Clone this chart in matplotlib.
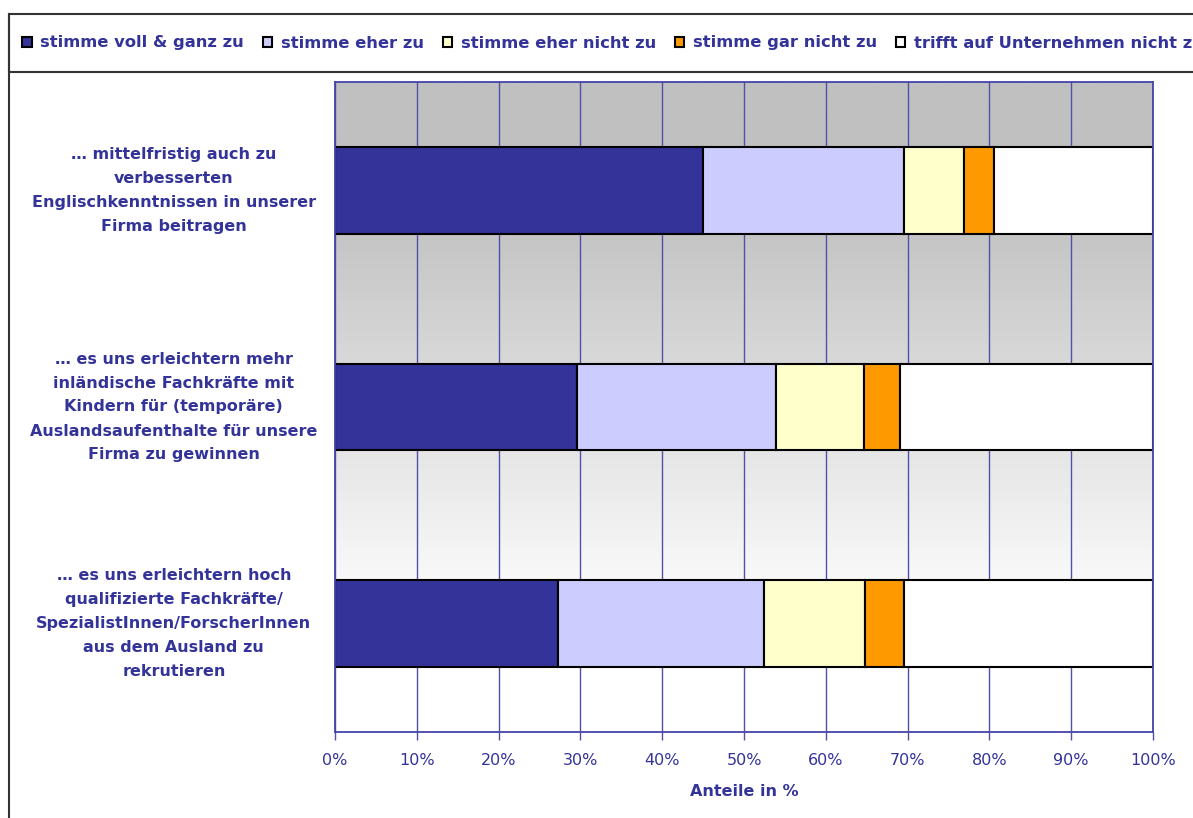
import numpy as np
import matplotlib
matplotlib.use('Agg')
import matplotlib.pyplot as plt
from matplotlib.patches import Rectangle
from matplotlib.lines import Line2D
import matplotlib.transforms as mtransforms

# Daten (Anteile in %)
kategorien = [
    '… mittelfristig auch zu\nverbesserten\nEnglischkenntnissen in unserer\nFirma beitragen',
    '… es uns erleichtern mehr\ninländische Fachkräfte mit\nKindern für (temporäre)\nAuslandsaufenthalte für unsere\nFirma zu gewinnen',
    '… es uns erleichtern hoch\nqualifizierte Fachkräfte/\nSpezialistInnen/ForscherInnen\naus dem Ausland zu\nrekrutieren',
]
serien = ['stimme voll & ganz zu', 'stimme eher zu', 'stimme eher nicht zu',
          'stimme gar nicht zu', 'trifft auf Unternehmen nicht zu']
voll_ganz = [45.0, 29.6, 27.3]
eher_zu = [24.6, 24.3, 25.1]
eher_nicht = [7.3, 10.8, 12.4]
gar_nicht = [3.7, 4.4, 4.8]
trifft_nicht = [19.4, 30.9, 30.4]
xticks = [0, 10, 20, 30, 40, 50, 60, 70, 80, 90, 100]
xticklabels = [f'{t}%' for t in xticks]

farben = ['#333399', '#ccccff', '#ffffcc', '#ff9900', '#ffffff']
textfarbe = '#333399'
gitterfarbe = '#5050a8'

plt.rcParams['font.family'] = ['DejaVu Sans']

fig = plt.figure(figsize=(11.93, 8.18), dpi=100)
ax = fig.add_axes([335/1193, 1 - 732/818, 818/1193, 650/818])

# Hintergrundverlauf grau -> weiss
cmap = matplotlib.colors.LinearSegmentedColormap.from_list(
    'g', [(0, '#c0c0c0'), (0.18, '#c0c0c0'), (0.83, '#ffffff'), (1, '#ffffff')])
verlauf = np.linspace(0, 1, 512).reshape(-1, 1)
ax.imshow(verlauf, extent=[0, 100, -0.5, 2.5], aspect='auto', origin='upper',
          cmap=cmap, zorder=0)

ypos = np.array([2, 1, 0])
werte = [voll_ganz, eher_zu, eher_nicht, gar_nicht, trifft_nicht]
links = np.zeros(3)
for name, w, f in zip(serien, werte, farben):
    ax.barh(ypos, w, left=links, height=0.4, color=f, edgecolor='black',
            linewidth=1.5, label=name, zorder=3)
    links += np.array(w)

ax.set_xlim(0, 100)
ax.set_ylim(-0.5, 2.5)
ax.set_xticks(xticks)
ax.set_xticklabels(xticklabels, fontsize=11.5, color=textfarbe)
ax.tick_params(axis='x', colors=gitterfarbe, labelcolor=textfarbe, length=6,
               width=1, pad=9, direction='out')
ax.set_yticks([])
ax.xaxis.grid(True, color=gitterfarbe, linewidth=1)
ax.set_axisbelow(False)
for l in ax.get_xgridlines():
    l.set_zorder(1)
for s in ax.spines.values():
    s.set_color('#4444aa')
    s.set_linewidth(1.3)
    s.set_zorder(4)

ax.set_xlabel('Anteile in %', fontsize=11.5, fontweight='bold', color=textfarbe, labelpad=12)

trans = mtransforms.blended_transform_factory(ax.transAxes, ax.transData)
for y, k in zip(ypos, kategorien):
    ax.text(-0.197, y, k, transform=trans, ha='center', va='center',
            multialignment='center', fontsize=11.5, fontweight='bold',
            color=textfarbe, linespacing=1.75)

# Legendenrahmen und Diagrammrand
fig.patches.append(Rectangle((9/1193, 1 - 72/818), 1.1, 58/818, transform=fig.transFigure,
                             facecolor='white', edgecolor='#333333', linewidth=1.5, zorder=1))
fig.lines.append(Line2D([9/1193, 9/1193], [0, 1 - 14/818], transform=fig.transFigure,
                        color='#333333', linewidth=1.5))

leg = fig.legend(loc='center left', bbox_to_anchor=(22/1193, 1 - 43/818), ncol=5,
                 frameon=False, fontsize=11.8, handlelength=0.6, handleheight=0.6,
                 handletextpad=0.5, columnspacing=1.15, borderpad=0, borderaxespad=0)
for t in leg.get_texts():
    t.set_color(textfarbe)
    t.set_fontweight('bold')
leg.set_zorder(5)

fig.savefig('out.png', dpi=100)
